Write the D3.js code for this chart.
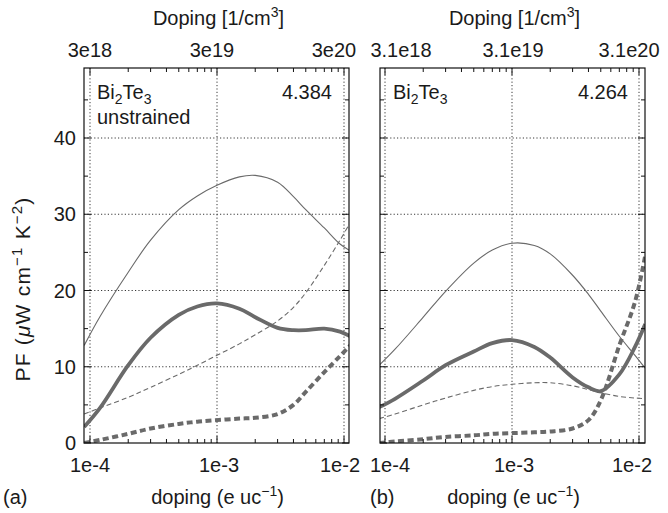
<!DOCTYPE html>
<html>
<head>
<meta charset="utf-8">
<script src="https://cdn.jsdelivr.net/npm/d3@7/dist/d3.min.js"></script>
<style>
  html, body { margin: 0; padding: 0; background: #fff; }
  svg { display: block; }
  text { font-family: "Liberation Sans", Arial, Helvetica, sans-serif; fill: #1a1a1a; }
</style>
</head>
<body>
<svg id="chart" width="668" height="513"></svg>
<script>
// ---------------- data ----------------
const doping = [9.0e-5, 1.2e-4, 2e-4, 3e-4, 5e-4, 7e-4, 1e-3, 1.5e-3, 2e-3, 3e-3, 4e-3, 5e-3, 7e-3, 9.3e-3, 1.12e-2];

const thinSolidA  = [12.8, 16.6, 22.4, 26.6, 30.6, 32.4, 33.8, 34.9, 35.1, 34.2, 32.3, 30.6, 28.2, 26.1, 25.2];
const thickSolidA = [2.1, 4.6, 10.2, 13.8, 16.8, 17.9, 18.3, 17.6, 16.5, 15.1, 14.8, 14.8, 15.0, 14.6, 14.0];
const thinDashA   = [3.8, 4.6, 6.0, 7.3, 9.0, 10.2, 11.5, 13.0, 14.2, 16.0, 17.8, 19.7, 23.3, 26.6, 28.9];
const thickDashA  = [0.0, 0.4, 1.2, 1.9, 2.5, 2.8, 3.0, 3.2, 3.3, 3.8, 5.0, 6.7, 9.3, 11.4, 12.8];

const thinSolidB  = [10.2, 12.3, 16.5, 19.9, 23.6, 25.3, 26.2, 25.9, 24.8, 22.0, 19.5, 17.3, 14.0, 11.5, 9.8];
const thickSolidB = [4.7, 5.8, 8.2, 10.2, 12.0, 13.1, 13.5, 12.6, 11.2, 8.6, 7.3, 6.8, 9.0, 12.6, 15.6];
const thinDashB   = [3.2, 3.8, 5.0, 5.9, 6.9, 7.4, 7.7, 7.9, 7.9, 7.5, 7.0, 6.6, 6.1, 5.9, 5.8];
const thickDashB  = [0.0, 0.2, 0.5, 0.8, 1.0, 1.2, 1.3, 1.4, 1.5, 1.9, 3.0, 5.6, 12.8, 18.5, 24.6];

const xTicks = [1e-4, 1e-3, 1e-2];
const xTickLabels = ["1e-4", "1e-3", "1e-2"];
const topTickLabelsA = ["3e18", "3e19", "3e20"];
const topTickLabelsB = ["3.1e18", "3.1e19", "3.1e20"];
const yTicks = [0, 10, 20, 30, 40];
const yMinorTicks = [5, 15, 25, 35, 45];
const xMinorTicks = [2e-4, 3e-4, 4e-4, 5e-4, 6e-4, 7e-4, 8e-4, 9e-4, 2e-3, 3e-3, 4e-3, 5e-3, 6e-3, 7e-3, 8e-3, 9e-3];

// ---------------- layout ----------------
const svg = d3.select("#chart");
const frameTop = 68, frameBottom = 443;
const y = d3.scaleLinear().domain([0, 40]).range([443, 138]);
const lineColor = "#6a6a6a";
const FS = 20;

const panels = [
  { id: "a", left: 84, right: 349, xr: [90, 344], series: [thinSolidA, thickSolidA, thinDashA, thickDashA],
    topLabels: topTickLabelsA, topShift: [0, -5, -10], botShift: [0, 2, -4], yLabels: true,
    name: "4.384", extra: "unstrained", letter: "(a)" },
  { id: "b", left: 380, right: 645, xr: [385, 639], series: [thinSolidB, thickSolidB, thinDashB, thickDashB],
    topLabels: topTickLabelsB, topShift: [16, 1, -10], botShift: [5, 2, -7], yLabels: false,
    name: "4.264", extra: null, letter: "(b)" }
];

const styles = [
  { w: 1.1, dash: null },
  { w: 3.8, dash: null },
  { w: 1.1, dash: "5,3" },
  { w: 4.0, dash: "6,3.5" }
];

panels.forEach((p, pi) => {
  const x = d3.scaleLog().domain([1e-4, 1e-2]).range(p.xr);
  const g = svg.append("g");

  svg.append("clipPath").attr("id", "clip" + p.id)
    .append("rect").attr("x", p.left).attr("y", frameTop).attr("width", p.right - p.left).attr("height", frameBottom - frameTop);

  // grid
  const grid = g.append("g").attr("stroke", "#222").attr("stroke-width", 0.9).attr("stroke-dasharray", "1.2,2.2");
  grid.selectAll("line.vx").data(xTicks).join("line")
    .attr("x1", d => x(d)).attr("x2", d => x(d)).attr("y1", frameTop).attr("y2", frameBottom);
  grid.selectAll("line.hy").data(yTicks.filter(d => d > 0)).join("line")
    .attr("x1", p.left).attr("x2", p.right).attr("y1", d => y(d)).attr("y2", d => y(d));

  // curves
  const line = d3.line().x((d, i) => x(doping[i])).y(d => y(d)).curve(d3.curveCatmullRom.alpha(0.5));
  const cg = g.append("g").attr("clip-path", `url(#clip${p.id})`);
  p.series.forEach((s, si) => {
    cg.append("path").datum(s)
      .attr("d", line)
      .attr("fill", "none")
      .attr("stroke", lineColor)
      .attr("stroke-width", styles[si].w)
      .attr("stroke-dasharray", styles[si].dash)
      .attr("stroke-linejoin", "round");
  });

  // ticks
  const tk = g.append("g").attr("stroke", "#111").attr("stroke-width", 1);
  tk.selectAll("line.yl").data(yTicks).join("line").attr("class", "yl")
    .attr("x1", p.left).attr("x2", p.left + 7).attr("y1", d => y(d)).attr("y2", d => y(d));
  tk.selectAll("line.yr").data(yTicks).join("line").attr("class", "yr")
    .attr("x1", p.right).attr("x2", p.right - 7).attr("y1", d => y(d)).attr("y2", d => y(d));
  tk.selectAll("line.yml").data(yMinorTicks).join("line").attr("class", "yml")
    .attr("x1", p.left).attr("x2", p.left + 4).attr("y1", d => y(d)).attr("y2", d => y(d));
  tk.selectAll("line.ymr").data(yMinorTicks).join("line").attr("class", "ymr")
    .attr("x1", p.right).attr("x2", p.right - 4).attr("y1", d => y(d)).attr("y2", d => y(d));
  tk.selectAll("line.xb").data(xTicks).join("line").attr("class", "xb")
    .attr("x1", d => x(d)).attr("x2", d => x(d)).attr("y1", frameBottom).attr("y2", frameBottom - 7);
  tk.selectAll("line.xt").data(xTicks).join("line").attr("class", "xt")
    .attr("x1", d => x(d)).attr("x2", d => x(d)).attr("y1", frameTop).attr("y2", frameTop + 7);
  tk.selectAll("line.xmb").data(xMinorTicks).join("line").attr("class", "xmb")
    .attr("x1", d => x(d)).attr("x2", d => x(d)).attr("y1", frameBottom).attr("y2", frameBottom - 4);
  tk.selectAll("line.xmt").data(xMinorTicks).join("line").attr("class", "xmt")
    .attr("x1", d => x(d)).attr("x2", d => x(d)).attr("y1", frameTop).attr("y2", frameTop + 4);

  // frame
  g.append("rect").attr("x", p.left).attr("y", frameTop).attr("width", p.right - p.left).attr("height", frameBottom - frameTop)
    .attr("fill", "none").attr("stroke", "#111").attr("stroke-width", 1.2);

  // tick labels
  const tl = g.append("g").attr("font-size", FS).attr("text-anchor", "middle");
  tl.selectAll("text.bt").data(xTicks).join("text").attr("class", "bt")
    .attr("x", (d, i) => x(d) + p.botShift[i]).attr("y", 472).text((d, i) => xTickLabels[i]);
  tl.selectAll("text.tt").data(xTicks).join("text").attr("class", "tt")
    .attr("x", (d, i) => x(d) + p.topShift[i]).attr("y", 57).text((d, i) => p.topLabels[i]);
  if (p.yLabels) {
    g.append("g").attr("font-size", FS).attr("text-anchor", "end")
      .selectAll("text").data(yTicks).join("text")
      .attr("x", p.left - 8).attr("y", d => y(d) + 7).text(d => d);
  }

  const cx = (p.left + p.right) / 2;
  const tt = g.append("text").attr("x", cx + 2).attr("y", 25).attr("font-size", FS).attr("text-anchor", "middle");
  tt.append("tspan").text("Doping [1/cm");
  tt.append("tspan").attr("font-size", 14).attr("dy", -8).text("3");
  tt.append("tspan").attr("dy", 8).text("]");

  const bt = g.append("text").attr("x", cx + 1).attr("y", 504).attr("font-size", FS).attr("text-anchor", "middle");
  bt.append("tspan").text("doping (e uc");
  bt.append("tspan").attr("font-size", 14).attr("dy", -8).text("\u22121");
  bt.append("tspan").attr("dy", 8).text(")");

  g.append("text").attr("x", pi === 0 ? 3 : 370).attr("y", 504).attr("font-size", FS).text(p.letter);

  const bi = g.append("text").attr("x", p.left + 13).attr("y", 99).attr("font-size", FS);
  bi.append("tspan").text("Bi");
  bi.append("tspan").attr("font-size", 14).attr("dy", 5).text("2");
  bi.append("tspan").attr("dy", -5).text("Te");
  bi.append("tspan").attr("font-size", 14).attr("dy", 5).text("3");
  if (p.extra) {
    g.append("text").attr("x", p.left + 13).attr("y", 124).attr("font-size", FS).text(p.extra);
  }
  g.append("text").attr("x", p.right - 17).attr("y", 99).attr("font-size", FS).attr("text-anchor", "end").text(p.name);
});

const yt = svg.append("text").attr("transform", "translate(30,289) rotate(-90)")
  .attr("font-size", 21).attr("letter-spacing", 1.2).attr("text-anchor", "middle");
yt.append("tspan").text("PF (");
yt.append("tspan").attr("font-style", "italic").text("\u03bc");
yt.append("tspan").text("W cm");
yt.append("tspan").attr("font-size", 15).attr("dy", -8).text("\u22121");
yt.append("tspan").attr("dy", 8).text(" K");
yt.append("tspan").attr("font-size", 15).attr("dy", -8).text("\u22122");
yt.append("tspan").attr("dy", 8).text(")");
</script>
</body>
</html>
